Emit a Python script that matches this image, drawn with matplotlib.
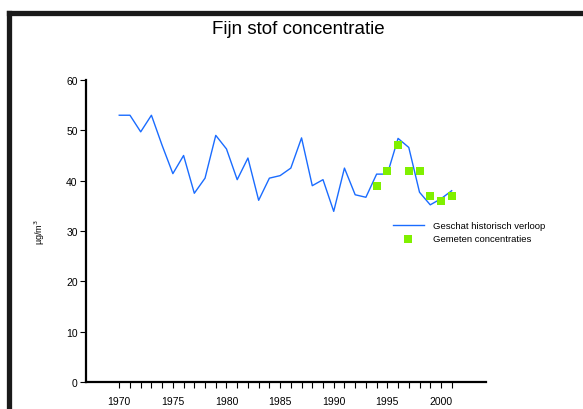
import matplotlib
matplotlib.use("Agg")
import matplotlib.pyplot as plt
from matplotlib.lines import Line2D

plt.rcParams['font.family'] = ['Liberation Sans', 'DejaVu Sans']

# geschat historisch verloop
years = list(range(1970, 2002))
estimated = [53, 53, 49.7, 53, 47, 41.4, 45, 37.5, 40.5, 49, 46.3, 40.2, 44.5, 36.1,
             40.5, 41, 42.5, 48.5, 39, 40.2, 33.9, 42.5, 37.2, 36.7, 41.3, 41.3,
             48.4, 46.6, 37.7, 35.2, 36.4, 38]

# gemeten concentraties
meas_years = [1994, 1995, 1996, 1997, 1998, 1999, 2000, 2001]
measured = [39, 42, 47, 42, 42, 37, 36, 37]

fig = plt.figure(figsize=(5.83, 4.10), dpi=100)
ax = fig.add_axes([86/583, 1 - 383/410, 400/583, 302/410])

ax.plot(years, estimated, color='#1a6cff', lw=1.0, label='Geschat historisch verloop')
ax.scatter(meas_years, measured, marker='s', s=30, color='#80f000', lw=0,
           label='Gemeten concentraties', zorder=3)

ax.set_xlim(1966.9, 2004.2)
ax.set_ylim(0, 60)
ax.set_yticks(range(0, 61, 10))
ax.set_xticks(range(1970, 2001, 5))
ax.set_xticks(range(1970, 2002), minor=True)
for s in ['top', 'right']:
    ax.spines[s].set_visible(False)
for s in ['left', 'bottom']:
    ax.spines[s].set_linewidth(1.6)
ax.tick_params(axis='y', direction='out', length=4, width=0.8, labelsize=7.5, pad=2)
ax.tick_params(axis='x', which='both', direction='out', length=4, width=0.8,
               labelsize=7.5, pad=6)
ax.set_ylabel('µg/m$^3$', fontsize=6.5, labelpad=14)

ax.legend(loc='upper left', bbox_to_anchor=(0.7575, 0.545), frameon=False,
          fontsize=6.8, handlelength=3.3, handletextpad=1.0, labelspacing=0.45,
          scatterpoints=1, borderaxespad=0)

fig.text(0.511, 1 - 30/410, 'Fijn stof concentratie', ha='center', va='center', fontsize=13.5)

# zwarte kader
fig.add_artist(Line2D([8.5/583, 1], [1 - 13.5/410, 1 - 13.5/410], color='#1a1a1a', lw=3.8))
fig.add_artist(Line2D([8.5/583, 8.5/583], [0, 1 - 13.5/410], color='#1a1a1a', lw=3.8))

fig.savefig('out.png', dpi=100)
